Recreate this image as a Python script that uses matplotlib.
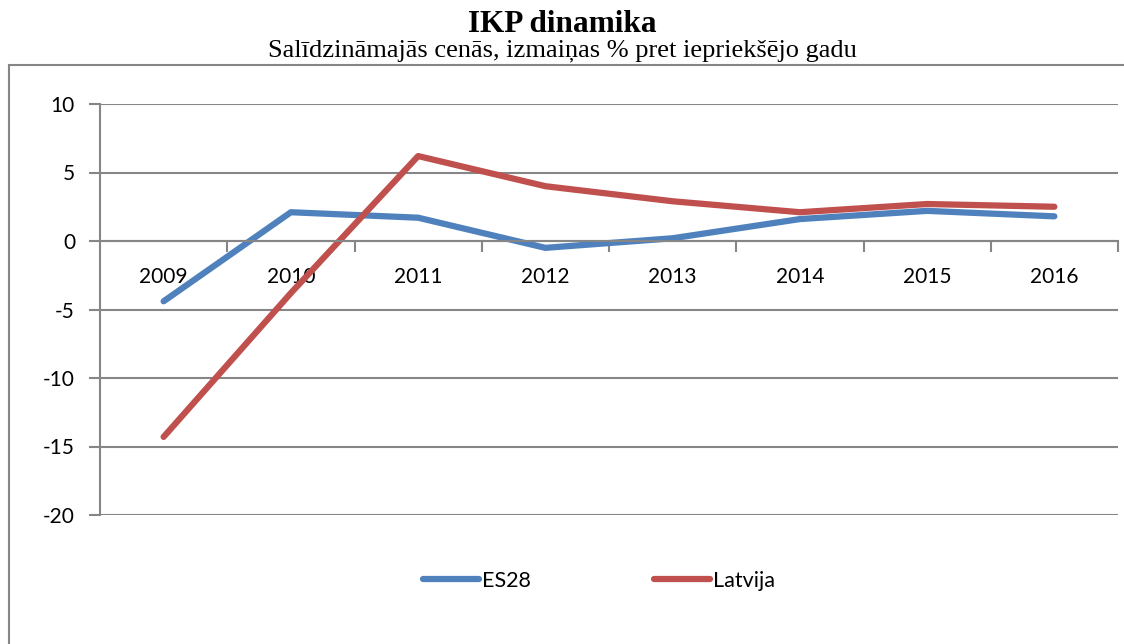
import matplotlib
matplotlib.use('Agg')
from matplotlib import pyplot as plt
from matplotlib.patches import Rectangle
from matplotlib.ticker import FixedLocator

years = ['2009', '2010', '2011', '2012', '2013', '2014', '2015', '2016']
es28 = [-4.4, 2.1, 1.7, -0.5, 0.2, 1.6, 2.2, 1.8]
latvija = [-14.3, -3.8, 6.2, 4.0, 2.9, 2.1, 2.7, 2.5]
yticks = [-20, -15, -10, -5, 0, 5, 10]

W, H = 1124, 644
grey = '#868686'
tickfont = 'Lato'

fig = plt.figure(figsize=(W / 100, H / 100), dpi=100)

# outer frame of the chart area (runs off right and bottom)
fig.add_artist(Rectangle((9 / W, -0.1), 1.2, 1.1 - 65 / H, transform=fig.transFigure,
                         fill=False, edgecolor=grey, linewidth=1.5))

fig.text(0.5, 1 - 32 / H, 'IKP dinamika', ha='center', va='baseline',
         family='Liberation Serif', fontsize=22.5, fontweight='bold')
fig.text(0.5, 1 - 56 / H, 'Salīdzināmajās cenās, izmaiņas % pret iepriekšējo gadu',
         ha='center', va='baseline', family='Liberation Serif', fontsize=19)

ax = fig.add_axes([100 / W, 1 - 515 / H, (1118 - 100) / W, (515 - 104) / H])
# spine position first, it resets the tick setup
ax.spines['bottom'].set_position(('data', 0))
for s in ['top', 'right']:
    ax.spines[s].set_visible(False)
for s in ['left', 'bottom']:
    ax.spines[s].set_color(grey)
    ax.spines[s].set_linewidth(1.5)

x = list(range(len(years)))
l1, = ax.plot(x, es28, color='#4F81BD', lw=4.5, solid_capstyle='round', solid_joinstyle='round', label='ES28')
l2, = ax.plot(x, latvija, color='#C0504D', lw=4.5, solid_capstyle='round', solid_joinstyle='round', label='Latvija')

ax.set_xlim(-0.5, len(years) - 0.5)
ax.set_ylim(-20, 10)
ax.set_yticks(yticks)
ax.set_yticklabels([str(v) for v in yticks], family=tickfont, fontsize=15)
ax.yaxis.grid(True, color=grey, lw=1.5)
ax.set_axisbelow(True)
ax.tick_params(axis='y', length=8, width=1.5, color=grey, pad=10)

ax.set_xticks(x)
ax.set_xticklabels(years, family=tickfont, fontsize=15)
ax.xaxis.set_minor_locator(FixedLocator([i + 0.5 for i in x]))
ax.tick_params(axis='x', which='major', length=0, pad=19)
ax.tick_params(axis='x', which='minor', length=8, width=1.5, color=grey, direction='out')

leg = fig.legend(handles=[l1, l2], loc='center', bbox_to_anchor=(599 / W, 1 - 581 / H),
                 ncol=2, frameon=False, prop={'family': tickfont, 'size': 15.5},
                 handlelength=2.6, handletextpad=0.15, columnspacing=5.7)

fig.savefig('out.png', dpi=100)
